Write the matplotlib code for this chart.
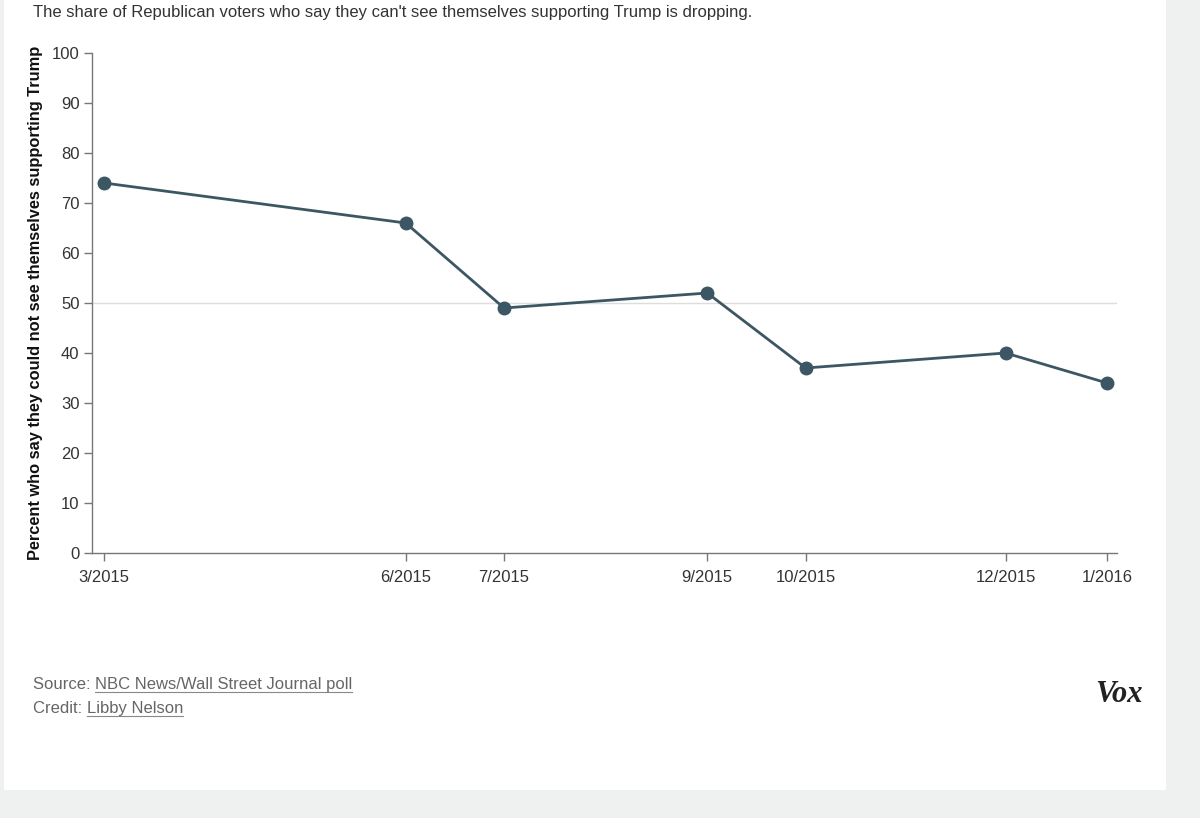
import datetime as dt
import matplotlib
matplotlib.use("Agg")
import matplotlib.pyplot as plt
from matplotlib.patches import Rectangle
from matplotlib.lines import Line2D

# poll data
dates = ["2015-03-01", "2015-06-01", "2015-07-01", "2015-09-01",
         "2015-10-01", "2015-12-01", "2016-01-01"]
tick_labels = ["3/2015", "6/2015", "7/2015", "9/2015", "10/2015", "12/2015", "1/2016"]
percent_not = [74, 66, 49, 52, 37, 40, 34]

x = [dt.datetime.strptime(d, "%Y-%m-%d") for d in dates]

line_color = "#3c5763"
text_color = "#333333"
plt.rcParams["font.family"] = ["Liberation Sans", "DejaVu Sans"]

fig = plt.figure(figsize=(12, 8.18), dpi=100)
fig.patch.set_facecolor("#eff1f0")
# white card
fig.add_artist(Rectangle((4 / 1200, 1 - 790 / 818), 1162 / 1200, 790 / 818,
                         transform=fig.transFigure, facecolor="white",
                         edgecolor="none", zorder=0))

ax = fig.add_axes([92 / 1200, 1 - 553 / 818, (1117 - 92) / 1200, 500 / 818])
ax.set_facecolor("none")
ax.axhline(50, color="#dddddd", lw=1, zorder=1)
ax.plot(x, percent_not, color=line_color, lw=2, marker="o", markersize=9,
        zorder=3, clip_on=False)

ax.set_xlim(x[0] - dt.timedelta(days=3.7), x[-1] + dt.timedelta(days=3))
ax.set_ylim(0, 100)
ax.set_yticks(range(0, 101, 10))
ax.set_xticks(x)
ax.set_xticklabels(tick_labels)

for s in ["top", "right"]:
    ax.spines[s].set_visible(False)
for s in ["left", "bottom"]:
    ax.spines[s].set_color("#777777")
    ax.spines[s].set_linewidth(1)
ax.tick_params(axis="both", colors="#777777", labelcolor=text_color,
               labelsize=12, length=6, width=1, pad=3)
ax.tick_params(axis="x", pad=6)

ax.set_ylabel("Percent who say they could not see themselves supporting Trump",
              fontsize=11.8, fontweight="bold", color="#111111", labelpad=6)

fig.text(33 / 1200, 1 - 13 / 818,
         "The share of Republican voters who say they can't see themselves supporting Trump is dropping.",
         fontsize=12, color=text_color, va="center", ha="left")

# footer with underlined links
fig.canvas.draw()
renderer = fig.canvas.get_renderer()


def footer(label, link, ypx):
    t1 = fig.text(33 / 1200, 1 - ypx / 818, label, fontsize=12,
                  color="#666666", va="baseline", ha="left")
    bb = t1.get_window_extent(renderer)
    t2 = fig.text(bb.x1 / 1200, 1 - ypx / 818, link, fontsize=12,
                  color="#666666", va="baseline", ha="left")
    bb2 = t2.get_window_extent(renderer)
    yl = (818 * (1 - ypx / 818) - 2.5) / 818
    fig.add_artist(Line2D([bb2.x0 / 1200, bb2.x1 / 1200], [yl, yl],
                          transform=fig.transFigure, color="#888888", lw=0.8))


footer("Source: ", "NBC News/Wall Street Journal poll", 689)
footer("Credit: ", "Libby Nelson", 713)

fig.text(1143 / 1200, 1 - 695 / 818, "Vox", family=["Liberation Serif", "DejaVu Serif"],
         fontsize=22, fontweight="bold", fontstyle="italic", color="#222222",
         ha="right", va="center")

fig.savefig("out.png", dpi=100, facecolor=fig.get_facecolor())
